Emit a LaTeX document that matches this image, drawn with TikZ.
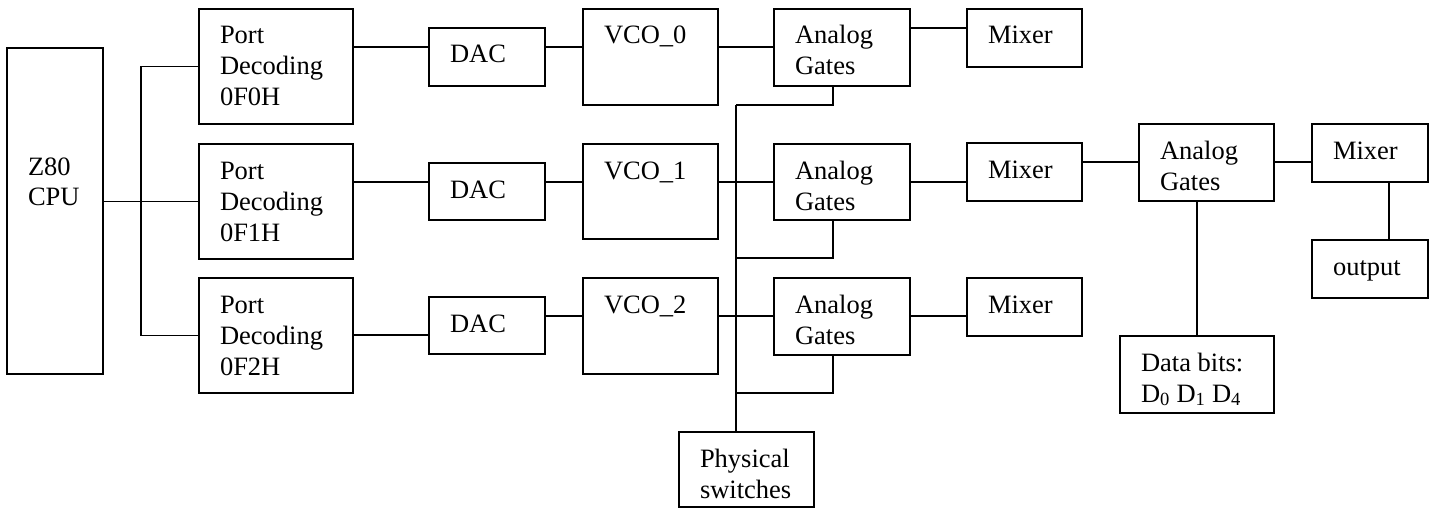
\documentclass[tikz,border=0pt]{standalone}
\usepackage{fontspec}
\setmainfont{Liberation Serif}
\usetikzlibrary{calc}

\tikzset{
  blk/.style={draw=black, line width=2pt, rectangle, inner sep=0pt, outer sep=0pt,
              anchor=north west},
  txt/.style={anchor=base west, inner sep=0pt, outer sep=0pt},
  wire/.style={draw=black, line width=1.8pt},
}

% box: name, left, top, width, height, first-baseline offset, text
\newcommand{\blockboxat}[7]{%
  \node[blk, minimum width=#4pt, minimum height=#5pt] (#1) at (#2,#3) {};
  \node[txt] (#1-t) at ($(#1.north west)+(21,#6)$)
    {\parbox[t]{#4pt}{\fontsize{26.5}{31}\selectfont #7}};
}
\newcommand{\blockbox}[6]{\blockboxat{#1}{#2}{#3}{#4}{#5}{35}{#6}}

\begin{document}
\begin{tikzpicture}[x=1pt, y=-1pt]
\useasboundingbox (0,0) rectangle (1439,508);

% blocks
\blockboxat{cpu}{7}{48}{96}{326}{127}{Z80\\[-1pt]CPU}
\blockbox{port0}{199}{9}{154}{115}{Port\\Decoding\\0F0H}
\blockbox{port1}{199}{144}{154}{115}{Port\\Decoding\\0F1H}
\blockbox{port2}{199}{278}{154}{115}{Port\\Decoding\\0F2H}
\blockbox{dac0}{429}{28}{116}{58}{DAC}
\blockbox{dac1}{429}{163}{116}{57}{DAC}
\blockbox{dac2}{429}{297}{116}{57}{DAC}
\blockbox{vco0}{583}{9}{135}{96}{VCO\_0}
\blockbox{vco1}{583}{144}{135}{95}{VCO\_1}
\blockbox{vco2}{583}{278}{135}{96}{VCO\_2}
\blockbox{gate0}{774}{9}{136}{77}{Analog\\Gates}
\blockbox{gate1}{774}{144}{136}{76}{Analog\\Gates}
\blockbox{gate2}{774}{278}{136}{77}{Analog\\Gates}
\blockbox{sw}{679}{432}{135}{75}{Physical\\switches}
\blockbox{mix0}{967}{9}{115}{58}{Mixer}
\blockbox{mix1}{967}{143}{115}{58}{Mixer}
\blockbox{mix2}{967}{278}{115}{58}{Mixer}
\blockbox{gate3}{1139}{124}{135}{77}{Analog\\Gates}
\blockbox{mix3}{1312}{124}{116}{58}{Mixer}
\blockbox{out}{1312}{240}{116}{58}{output}
\blockbox{data}{1120}{336}{154}{77}{Data bits:\\D\textsubscript{0} D\textsubscript{1} D\textsubscript{4}}

% rows and columns used by the wiring
\coordinate (ya) at (0,47);
\coordinate (yb) at (0,182);
\coordinate (yc) at (0,335);
\coordinate (yd) at (0,316);
\coordinate (ye) at (0,28);
\coordinate (yf) at (0,162);
\coordinate (xg) at (833,0);
\coordinate (xo) at (1389,0);
\coordinate (xd) at (1197,0);
\coordinate (bx) at (141,201.5);
\coordinate (sb0) at (736,105);
\coordinate (sb1) at (736,258);
\coordinate (sb2) at (736,393);

% wiring
\draw[wire] (cpu.east |- bx) -- (port1.west);
\draw[wire] (port0.west) -| (bx) |- (port2.west);

\draw[wire] (port0.east |- ya) -- (dac0.west |- ya);
\draw[wire] (port1.east |- yb) -- (dac1.west |- yb);
\draw[wire] (port2.east |- yc) -- (dac2.west |- yc);

\draw[wire] (dac0.east |- ya) -- (vco0.west |- ya);
\draw[wire] (dac1.east |- yb) -- (vco1.west |- yb);
\draw[wire] (dac2.east |- yd) -- (vco2.west |- yd);

\draw[wire] (vco0.east |- ya) -- (gate0.west |- ya);
\draw[wire] (vco1.east |- yb) -- (gate1.west |- yb);
\draw[wire] (vco2.east |- yd) -- (gate2.west |- yd);

\draw[wire] (gate0.east |- ye) -- (mix0.west |- ye);
\draw[wire] (gate1.east |- yb) -- (mix1.west |- yb);
\draw[wire] (gate2.east |- yd) -- (mix2.west |- yd);

\draw[wire] (gate0.south -| xg) |- (sb0);
\draw[wire] (gate1.south -| xg) |- (sb1);
\draw[wire] (gate2.south -| xg) |- (sb2);
\draw[wire] (sb0) -- (sw.north -| sb0);

\draw[wire] (mix1.east |- yf) -- (gate3.west |- yf);
\draw[wire] (gate3.east |- yf) -- (mix3.west |- yf);
\draw[wire] (mix3.south -| xo) -- (out.north -| xo);
\draw[wire] (gate3.south -| xd) -- (data.north -| xd);

\end{tikzpicture}
\end{document}
